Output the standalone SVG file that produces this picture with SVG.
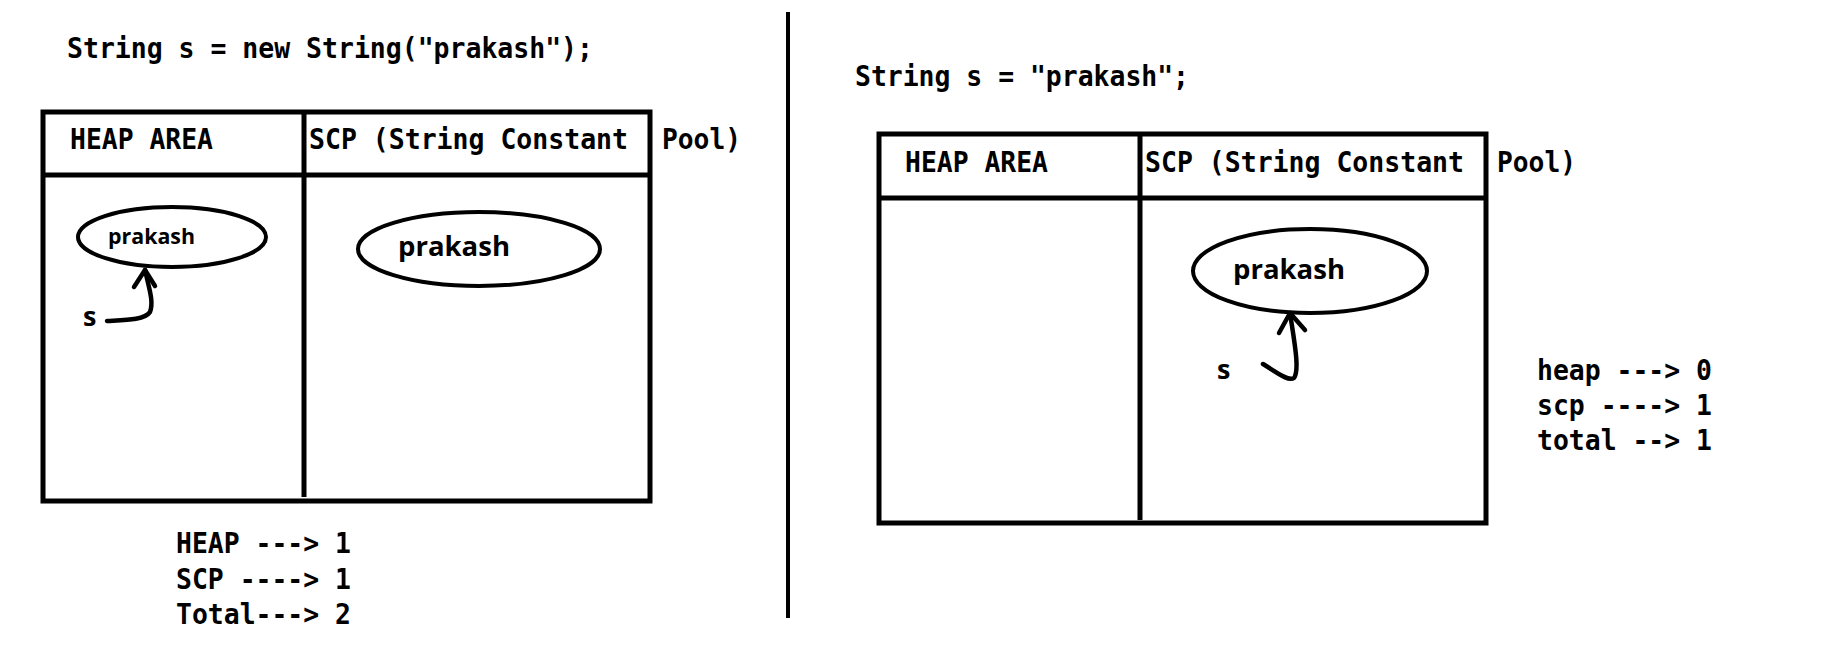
<svg xmlns="http://www.w3.org/2000/svg" width="1824" height="647" viewBox="0 0 1824 647">
<style>
.code{font-family:"DejaVu Sans Mono","Liberation Mono",monospace;font-weight:bold;font-size:29px;fill:#000}
.lbl{font-family:"Open Sans","Liberation Sans",sans-serif;font-weight:bold;fill:#000}
.box{fill:none;stroke:#000;stroke-width:5}
.ell{fill:#fff;stroke:#000;stroke-width:4}
.conn{fill:none;stroke:#000;stroke-width:4.5;stroke-linecap:round;stroke-linejoin:round}
</style>
<rect width="1824" height="647" fill="#fff"/>
<line x1="788" y1="12" x2="788" y2="618" stroke="#000" stroke-width="4"/>
<g id="left">
<text class="code" x="67" y="58" textLength="526" lengthAdjust="spacingAndGlyphs">String s = new String("prakash");</text>
<g id="left-table">
<rect class="box" x="43" y="112" width="607" height="389"/>
<line class="box" x1="43" y1="175" x2="650" y2="175"/>
<line class="box" x1="304" y1="112" x2="304" y2="497"/>
<text class="code" x="70" y="149" textLength="143" lengthAdjust="spacingAndGlyphs">HEAP AREA</text>
<text class="code" x="309" y="149" textLength="319" lengthAdjust="spacingAndGlyphs">SCP (String Constant</text>
<text class="code" x="662" y="149" textLength="79" lengthAdjust="spacingAndGlyphs">Pool)</text>
</g>
<g id="left-heap-obj">
<ellipse class="ell" cx="172" cy="237" rx="94" ry="30"/>
<text class="lbl" x="108" y="244" font-size="21" textLength="87" lengthAdjust="spacingAndGlyphs">prakash</text>
</g>
<g id="left-scp-obj">
<ellipse class="ell" cx="479" cy="249" rx="121" ry="37"/>
<text class="lbl" x="398" y="256" font-size="26" textLength="112" lengthAdjust="spacingAndGlyphs">prakash</text>
</g>
<text class="lbl" x="83" y="326" font-size="27">s</text>
<text class="code" x="176" y="553" textLength="175" lengthAdjust="spacingAndGlyphs">HEAP ---&gt; 1</text>
<text class="code" x="176" y="589" textLength="175" lengthAdjust="spacingAndGlyphs">SCP ----&gt; 1</text>
<text class="code" x="176" y="624" textLength="175" lengthAdjust="spacingAndGlyphs">Total---&gt; 2</text>
</g>
<g id="right">
<text class="code" x="855" y="86" textLength="334" lengthAdjust="spacingAndGlyphs">String s = "prakash";</text>
<g id="right-table">
<rect class="box" x="879" y="134" width="607" height="389"/>
<line class="box" x1="879" y1="198" x2="1486" y2="198"/>
<line class="box" x1="1140" y1="134" x2="1140" y2="520"/>
<text class="code" x="905" y="172" textLength="143" lengthAdjust="spacingAndGlyphs">HEAP AREA</text>
<text class="code" x="1145" y="172" textLength="319" lengthAdjust="spacingAndGlyphs">SCP (String Constant</text>
<text class="code" x="1497" y="172" textLength="79" lengthAdjust="spacingAndGlyphs">Pool)</text>
</g>
<g id="right-scp-obj">
<ellipse class="ell" cx="1310" cy="271" rx="117" ry="42"/>
<text class="lbl" x="1233" y="279" font-size="26" textLength="112" lengthAdjust="spacingAndGlyphs">prakash</text>
</g>
<text class="lbl" x="1217" y="379" font-size="27">s</text>
<text class="code" x="1537" y="380" textLength="175" lengthAdjust="spacingAndGlyphs">heap ---&gt; 0</text>
<text class="code" x="1537" y="415" textLength="175" lengthAdjust="spacingAndGlyphs">scp ----&gt; 1</text>
<text class="code" x="1537" y="450" textLength="175" lengthAdjust="spacingAndGlyphs">total --&gt; 1</text>
</g>
<g id="connectors">
<path class="conn" d="M107,321 C125,320 145,320 150,312 C154,302 149,288 145,270"/>
<path class="conn" d="M134,287 L145,270 L155,286"/>
<path class="conn" d="M1263,364 C1275,371 1288,382 1294,378 C1300,370 1294,340 1290,313"/>
<path class="conn" d="M1279,333 L1290,313 L1305,330"/>
</g>
</svg>
